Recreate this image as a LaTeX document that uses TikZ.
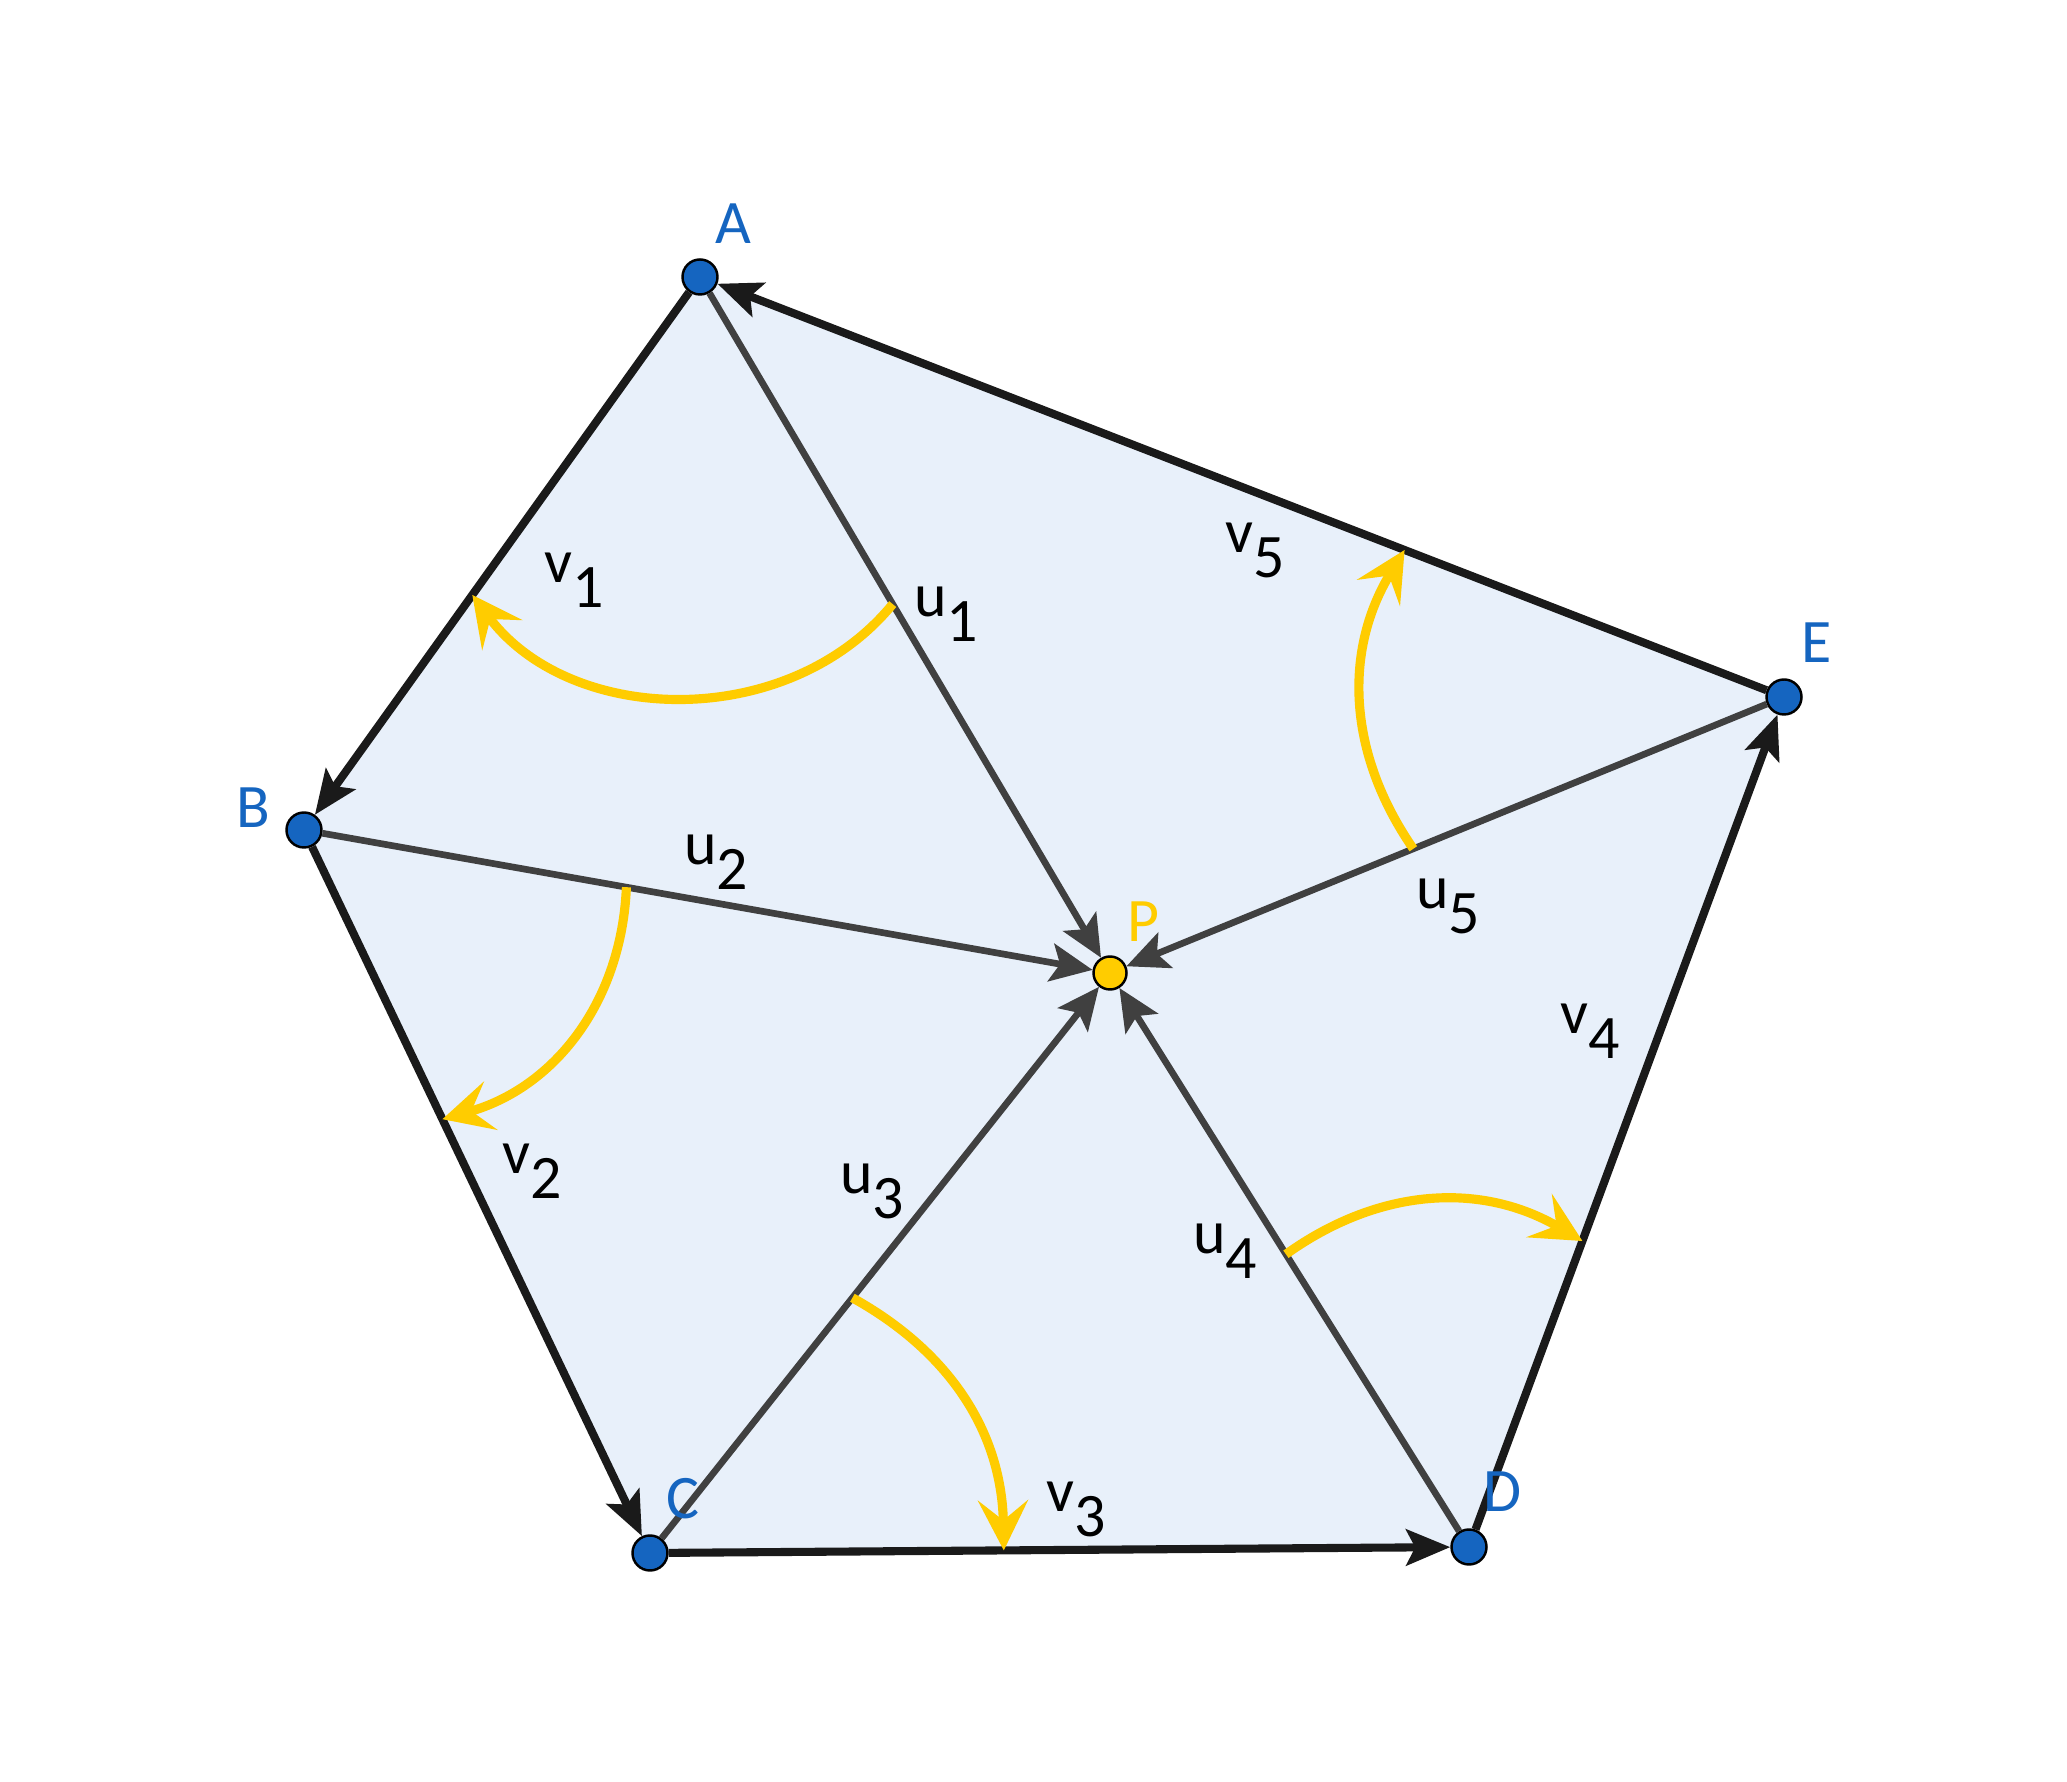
\documentclass[tikz,border=0pt]{standalone}
\usepackage{fontspec}
\setmainfont{Carlito}
\usetikzlibrary{arrows.meta,calc,backgrounds}
\definecolor{ptblue}{HTML}{1565C0}
\definecolor{ptgold}{HTML}{FFCC00}
\definecolor{facefill}{HTML}{E8F0FA}
\definecolor{seggray}{HTML}{404040}
\definecolor{edgeblack}{HTML}{1A1A1A}
\newcommand{\vlab}[2]{#1\raisebox{-0.25cm}{#2}}

\begin{document}
\begin{tikzpicture}[
  pt/.style={circle,draw=black,line width=0.7pt,fill=ptblue,inner sep=0pt,minimum size=0.35cm},
  side/.style={draw=edgeblack,line width=2.3pt,-{Stealth[length=0.44cm,width=0.36cm,inset=0.09cm]}},
  spoke/.style={draw=seggray,line width=1.9pt,-{Stealth[length=0.42cm,width=0.38cm,inset=0.09cm]}},
  turn/.style={draw=ptgold,line width=2.6pt,-{Stealth[length=0.5cm,width=0.5cm,inset=0.2cm]}},
  vname/.style={text=ptblue,font=\fontsize{17.6}{20}\selectfont},
  vec/.style={font=\fontsize{17.6}{20}\selectfont}
]
\useasboundingbox (0,0) rectangle (20.67,17.81);

\node[pt] (A) at (7.00,15.04) {};
\node[pt] (B) at (3.04,9.51) {};
\node[pt] (C) at (6.50,2.28) {};
\node[pt] (D) at (14.69,2.34) {};
\node[pt] (E) at (17.84,10.84) {};
\node[pt,fill=ptgold,minimum size=0.33cm] (P) at (11.10,8.08) {};

\begin{scope}[on background layer]
\fill[facefill] (A.center) -- (B.center) -- (C.center) -- (D.center) -- (E.center) -- cycle;
\end{scope}

\foreach \a in {A,B,C,D,E}
  \draw[spoke] (\a) to (P);

\foreach \a/\b in {A/B,B/C,C/D,D/E,E/A}
  \draw[side] (\a) to (\b);

\coordinate (s1) at ($(A)!0.47!(P)$);
\coordinate (t1) at ($(A)!0.575!(B)$);
\coordinate (s2) at ($(B)!0.40!(P)$);
\coordinate (t2) at ($(B)!0.40!(C)$);
\coordinate (s3) at ($(C)!0.44!(P)$);
\coordinate (t3) at ($(C)!0.432!(D)$);
\coordinate (s4) at ($(D)!0.51!(P)$);
\coordinate (t4) at ($(D)!0.36!(E)$);
\coordinate (s5) at ($(E)!0.55!(P)$);
\coordinate (t5) at ($(E)!0.35!(A)$);

\draw[turn] (s1) to[bend left=52] (t1);
\draw[turn] (s2) to[bend left=36] (t2);
\draw[turn] (s3) to[bend left=30] (t3);
\draw[turn] (s4) to[bend left=33] (t4);
\draw[turn] (s5) to[bend left=33] (t5);

\node[vname] (lA) at (7.33,15.57) {A};
\node[vname] (lB) at (2.53,9.73) {B};
\node[vname] (lC) at (6.83,2.82) {C};
\node[vname] (lD) at (15.03,2.89) {D};
\node[vname] (lE) at (18.17,11.38) {E};
\node[vname,text=ptgold] (lP) at (11.43,8.59) {P};

\node[vec] (lu1) at (9.46,11.67) {\vlab{u}{1}};
\node[vec] (lu2) at (7.16,9.19) {\vlab{u}{2}};
\node[vec] (lu3) at (8.72,5.90) {\vlab{u}{3}};
\node[vec] (lu4) at (12.25,5.30) {\vlab{u}{4}};
\node[vec] (lu5) at (14.48,8.75) {\vlab{u}{5}};
\node[vec] (lv1) at (5.74,12.01) {\vlab{v}{1}};
\node[vec] (lv2) at (5.32,6.10) {\vlab{v}{2}};
\node[vec] (lv3) at (10.76,2.72) {\vlab{v}{3}};
\node[vec] (lv4) at (15.90,7.50) {\vlab{v}{4}};
\node[vec] (lv5) at (12.55,12.31) {\vlab{v}{5}};

\end{tikzpicture}
\end{document}
